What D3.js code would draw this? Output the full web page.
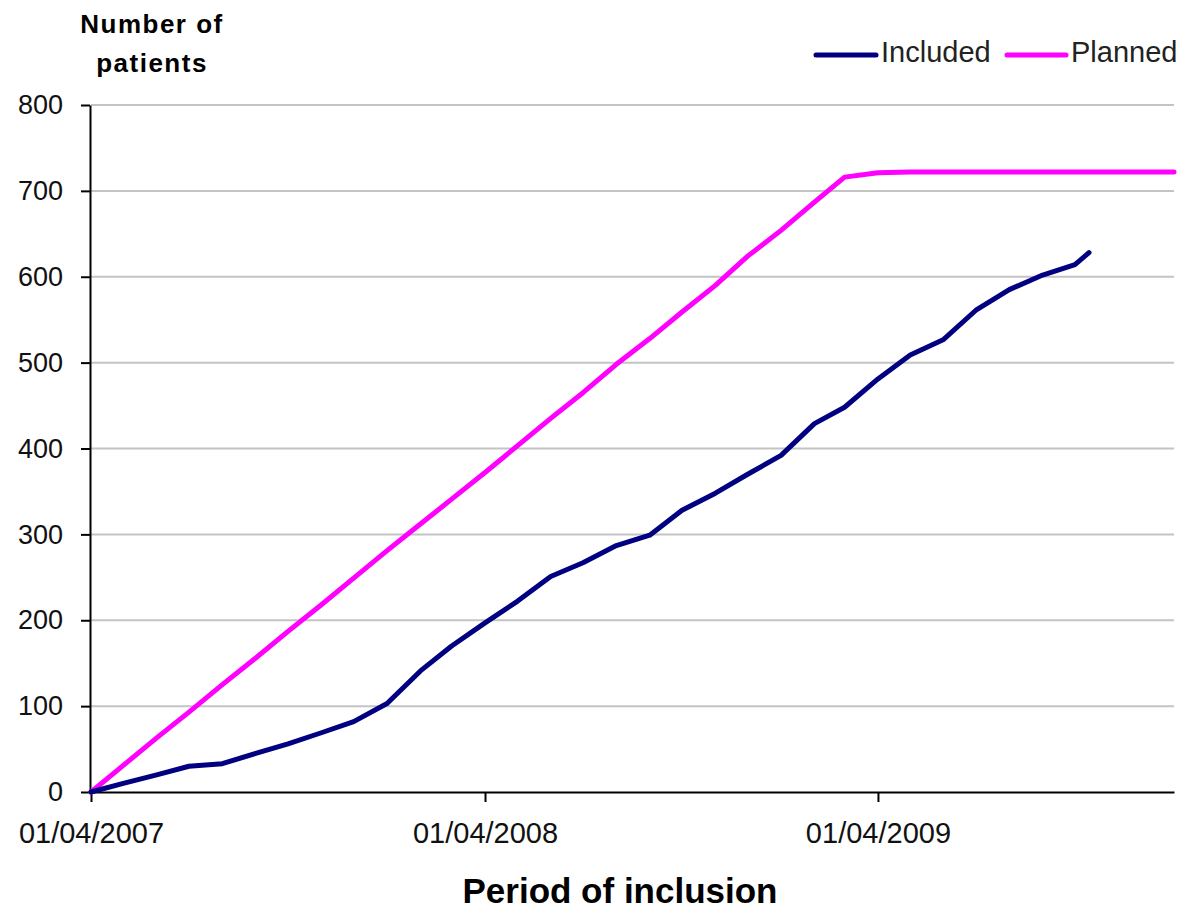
<!DOCTYPE html>
<html>
<head>
<meta charset="utf-8">
<script src="https://cdn.jsdelivr.net/npm/d3@7"></script>
<style>
  html, body { margin: 0; padding: 0; background: #fff; }
  svg { display: block; font-family: "Liberation Sans", Arial, sans-serif; }
</style>
</head>
<body>
<svg id="chart" width="1186" height="913"></svg>
<script>
// Monthly cumulative recruitment, April 2007 – January 2010
const monthDates = [
  "2007-04-01","2007-05-01","2007-06-01","2007-07-01","2007-08-01","2007-09-01",
  "2007-10-01","2007-11-01","2007-12-01","2008-01-01","2008-02-01","2008-03-01",
  "2008-04-01","2008-05-01","2008-06-01","2008-07-01","2008-08-01","2008-09-01",
  "2008-10-01","2008-11-01","2008-12-01","2009-01-01","2009-02-01","2009-03-01",
  "2009-04-01","2009-05-01","2009-06-01","2009-07-01","2009-08-01","2009-09-01",
  "2009-10-01","2009-11-01","2009-12-01","2010-01-01"
];

const plannedValues = [
  0, 31, 63, 93, 125, 156, 187, 218, 249, 281, 312, 341,
  372, 403, 435, 465, 498, 528, 559, 590, 624, 654, 687, 716,
  721, 722, 722, 722, 722, 722, 722, 722, 722, 722
];

const includedDates = monthDates.slice(0, 31).concat(["2009-10-14"]);
const includedValues = [
  0, 10, 20, 30, 33, 45, 56, 69, 82, 103, 141, 170,
  197, 222, 251, 267, 287, 299, 328, 348, 370, 392, 429, 448,
  481, 509, 527, 561, 585, 602, 614, 628
];

const yTicks = [0, 100, 200, 300, 400, 500, 600, 700, 800];
const xTickDates = ["2007-04-01", "2008-04-01", "2009-04-01"];
const xTickLabels = ["01/04/2007", "01/04/2008", "01/04/2009"];

const seriesNames = ["Included", "Planned"];
const seriesColors = ["#000080", "#ff00ff"];

const parse = d3.utcParse("%Y-%m-%d");

const svg = d3.select("#chart");

const x = d3.scaleUtc()
  .domain([parse("2007-04-01"), parse("2010-01-01")])
  .range([91, 1174]);

const y = d3.scaleLinear()
  .domain([0, 800])
  .range([792, 105]);

// horizontal gridlines
svg.append("g")
  .selectAll("line")
  .data(yTicks.filter(v => v > 0))
  .join("line")
  .attr("x1", x.range()[0])
  .attr("x2", x.range()[1])
  .attr("y1", d => y(d))
  .attr("y2", d => y(d))
  .attr("stroke", "#c4c4c4")
  .attr("stroke-width", 2);

// y axis
const yAxis = svg.append("g")
  .attr("transform", `translate(${x.range()[0] - 1},0)`)
  .call(d3.axisLeft(y).tickValues(yTicks).tickSize(9).tickPadding(18).tickSizeOuter(0));
yAxis.select(".domain").attr("stroke", "#000").attr("stroke-width", 2);
yAxis.selectAll(".tick line").attr("stroke", "#000").attr("stroke-width", 2);
yAxis.selectAll(".tick text")
  .attr("font-size", 27)
  .attr("fill", "#111")
  .attr("font-family", "Liberation Sans, Arial, sans-serif");

// x axis
const xAxis = svg.append("g")
  .attr("transform", `translate(0,${y(0)})`)
  .call(d3.axisBottom(x)
    .tickValues(xTickDates.map(parse))
    .tickFormat((d, i) => xTickLabels[i])
    .tickSize(10).tickPadding(20).tickSizeOuter(0));
xAxis.select(".domain").attr("stroke", "#000").attr("stroke-width", 2);
xAxis.selectAll(".tick line").attr("stroke", "#000").attr("stroke-width", 2);
xAxis.selectAll(".tick text")
  .attr("font-size", 29)
  .attr("fill", "#111")
  .attr("font-family", "Liberation Sans, Arial, sans-serif");

// series lines
const line = d3.line()
  .x(d => x(d.date))
  .y(d => y(d.value));

const includedData = includedDates.map((d, i) => ({ date: parse(d), value: includedValues[i] }));
const plannedData = monthDates.map((d, i) => ({ date: parse(d), value: plannedValues[i] }));

svg.append("path")
  .datum(plannedData)
  .attr("d", line)
  .attr("fill", "none")
  .attr("stroke", seriesColors[1])
  .attr("stroke-width", 5)
  .attr("stroke-linejoin", "round")
  .attr("stroke-linecap", "round");

svg.append("path")
  .datum(includedData)
  .attr("d", line)
  .attr("fill", "none")
  .attr("stroke", seriesColors[0])
  .attr("stroke-width", 5)
  .attr("stroke-linejoin", "round")
  .attr("stroke-linecap", "round");

// y-axis title
const yTitle = svg.append("text")
  .attr("font-size", 26)
  .attr("font-weight", "bold")
  .attr("fill", "#000")
  .attr("text-anchor", "middle");
yTitle.append("tspan").attr("x", 152).attr("y", 33).attr("letter-spacing", 1.5).text("Number of");
yTitle.append("tspan").attr("x", 152).attr("y", 72).attr("letter-spacing", 1.5).text("patients");

// x-axis title
svg.append("text")
  .attr("x", 620)
  .attr("y", 903)
  .attr("text-anchor", "middle")
  .attr("font-size", 35)
  .attr("font-weight", "bold")
  .attr("fill", "#000")
  .text("Period of inclusion");

// legend
const legendItems = [
  { name: seriesNames[0], color: seriesColors[0], x1: 816, x2: 876, tx: 881 },
  { name: seriesNames[1], color: seriesColors[1], x1: 1007, x2: 1066, tx: 1071 }
];
const lg = svg.append("g");
lg.selectAll("line")
  .data(legendItems)
  .join("line")
  .attr("x1", d => d.x1)
  .attr("x2", d => d.x2)
  .attr("y1", 55)
  .attr("y2", 55)
  .attr("stroke", d => d.color)
  .attr("stroke-width", 5)
  .attr("stroke-linecap", "round");
lg.selectAll("text")
  .data(legendItems)
  .join("text")
  .attr("x", d => d.tx)
  .attr("y", 62)
  .attr("font-size", 29)
  .attr("fill", "#222")
  .text(d => d.name);
</script>
</body>
</html>
